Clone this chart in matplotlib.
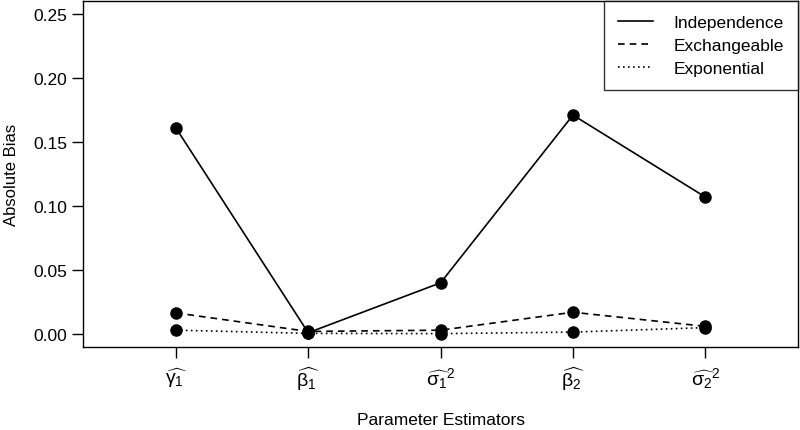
import matplotlib
matplotlib.use("Agg")
import matplotlib.pyplot as plt

plt.rcParams['font.family'] = ['Liberation Sans', 'DejaVu Sans']
plt.rcParams['mathtext.fontset'] = 'custom'
plt.rcParams['mathtext.rm'] = 'Liberation Sans'
plt.rcParams['mathtext.it'] = 'Liberation Sans'

positions = [1, 2, 3, 4, 5]
tick_labels = [r'$\widehat{\gamma_1}$', r'$\widehat{\beta_1}$', r'$\widehat{\sigma_1}^2$',
               r'$\widehat{\beta_2}$', r'$\widehat{\sigma_2}^2$']
independence = [0.161, 0.001, 0.040, 0.171, 0.107]
exchangeable = [0.0165, 0.002, 0.003, 0.017, 0.006]
exponential = [0.003, 0.0005, 0.0003, 0.0015, 0.005]

fig = plt.figure(figsize=(8, 4.31), dpi=100)
ax = fig.add_axes([0.104, 0.193, 0.8935, 0.802])

ax.plot(positions, independence, color='black', lw=1.2, ls='-', label='Independence')
ax.plot(positions, exchangeable, color='black', lw=1.2, ls=(0, (4, 3)), label='Exchangeable')
ax.plot(positions, exponential, color='black', lw=1.2, ls=(0, (1, 2)), label='Exponential')
for s in (independence, exchangeable, exponential):
    ax.plot(positions, s, 'o', color='black', ms=8, label='_nolegend_')

ax.set_xlim(0.3, 5.7)
ax.set_ylim(-0.01, 0.26)
ax.set_yticks([0, 0.05, 0.10, 0.15, 0.20, 0.25])
ax.set_yticklabels(['0.00', '0.05', '0.10', '0.15', '0.20', '0.25'], fontsize=12.5)
ax.set_xticks(positions)
ax.set_xticklabels(tick_labels, fontsize=14)
ax.tick_params(axis='both', length=8, width=1, colors='black')
ax.tick_params(axis='x', pad=5)
for sp in ax.spines.values():
    sp.set_linewidth(1)
fig.text(ax.get_position().x0 + ax.get_position().width / 2, 1 - 421 / 431,
         'Parameter Estimators', fontsize=12.5, ha='center', va='center')
ax.set_ylabel('Absolute Bias', fontsize=12, labelpad=10)

leg = ax.legend(loc='upper right', fontsize=12.5, frameon=True, fancybox=False,
                edgecolor='black', borderaxespad=0, handlelength=2.0,
                handletextpad=1.2, borderpad=0.8, labelspacing=0.45)
leg.get_frame().set_linewidth(1)

fig.savefig('out.png', dpi=100)
